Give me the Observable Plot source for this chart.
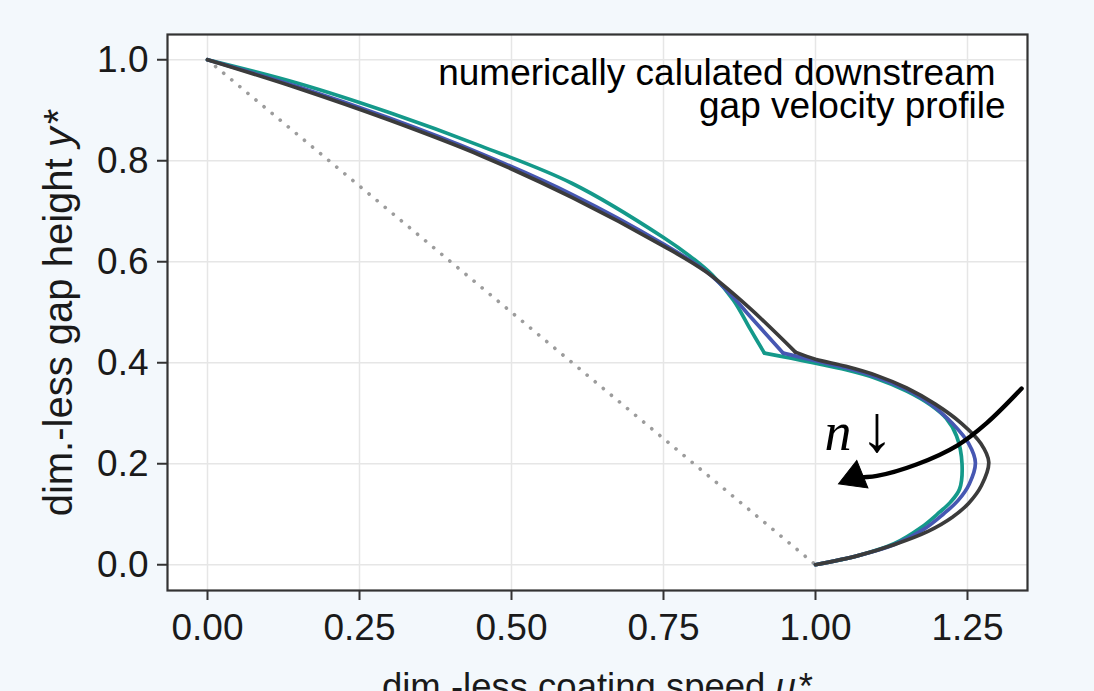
<!DOCTYPE html>
<html><head><meta charset="utf-8">
<script src="https://cdn.jsdelivr.net/npm/d3@7"></script>
<script src="https://cdn.jsdelivr.net/npm/@observablehq/plot@0.6"></script>
<style>
html,body{margin:0;padding:0;background:#f3f8fc;}
#chart{width:1094px;height:691px;overflow:hidden;}
</style></head><body><div id="chart"></div>
<script>
// ---- data ----
const seriesNames = ["n low", "n mid", "n high"];          // teal, blue, dark grey
const seriesColors = ["#14998a", "#4657b2", "#3b3b3b"];

const xTicks = [0, 0.25, 0.5, 0.75, 1.0, 1.25];
const yTicks = [0, 0.2, 0.4, 0.6, 0.8, 1.0];

// upper branch (wall -> kink)
const uHighUpper = [0, 0.15, 0.3, 0.45, 0.6, 0.75, 0.82, 0.89, 0.967];
const yHighUpper = [1, 0.943, 0.880, 0.810, 0.727, 0.631, 0.580, 0.510, 0.421];
const uMidUpper  = [0, 0.15, 0.3, 0.45, 0.6, 0.75, 0.82, 0.86, 0.893, 0.947];
const yMidUpper  = [1, 0.946, 0.884, 0.814, 0.733, 0.635, 0.581, 0.536, 0.491, 0.419];
const uLowUpper  = [0, 0.15, 0.3, 0.45, 0.6, 0.75, 0.8, 0.83, 0.865, 0.893, 0.916];
const yLowUpper  = [1, 0.953, 0.895, 0.829, 0.755, 0.648, 0.605, 0.574, 0.524, 0.466, 0.419];

// lower branch (kink -> moving substrate)
const uHighLower = [0.967, 1.0, 1.05, 1.1, 1.15, 1.197, 1.24, 1.272, 1.285, 1.273, 1.252, 1.225, 1.185, 1.13, 1.07, 1.0];
const yHighLower = [0.421, 0.407, 0.393, 0.375, 0.350, 0.318, 0.280, 0.240, 0.203, 0.157, 0.122, 0.094, 0.066, 0.040, 0.018, 0.0];
const uMidLower  = [0.947, 1.0, 1.05, 1.1, 1.15, 1.19, 1.225, 1.252, 1.263, 1.253, 1.235, 1.21, 1.178, 1.13, 1.07, 1.0];
const yMidLower  = [0.419, 0.404, 0.390, 0.372, 0.347, 0.318, 0.280, 0.240, 0.202, 0.160, 0.128, 0.100, 0.070, 0.040, 0.018, 0.0];
const uLowLower  = [0.916, 0.96, 1.0, 1.05, 1.1, 1.15, 1.19, 1.215, 1.232, 1.241, 1.237, 1.222, 1.204, 1.173, 1.13, 1.07, 1.0];
const yLowLower  = [0.419, 0.409, 0.399, 0.386, 0.369, 0.344, 0.316, 0.290, 0.255, 0.200, 0.150, 0.124, 0.104, 0.073, 0.042, 0.018, 0.0];

// reference (linear Couette) profile
const uLinear = [0, 1];
const yLinear = [1, 0];

// annotation arrow path  (n decreasing)
const arrowU = [1.339, 1.282, 1.233, 1.167, 1.101, 1.064];
const arrowY = [0.349, 0.281, 0.236, 0.199, 0.176, 0.173];
const arrowHead = [{u: 1.064, y: 0.173}];
const nLabel = [{u: 1.037, y: 0.261, t: "n"}];
const downLabel = [{u: 1.101, y: 0.268, t: "\u2193"}];

const titleLines = ["numerically calulated downstream", "gap velocity profile"];
const xTitle = "dim.-less coating speed u*";
const yTitle = "dim.-less gap height y*";

// ---- build tables ----
const rows = (series, part, us, ys) => us.map((u, i) => ({series, part, u, y: ys[i]}));
const lowRows  = [...rows("n low", "a", uLowUpper, yLowUpper), ...rows("n low", "b", uLowLower, yLowLower)];
const midRows  = [...rows("n mid", "a", uMidUpper, yMidUpper), ...rows("n mid", "b", uMidLower, yMidLower)];
const highRows = [...rows("n high", "a", uHighUpper, yHighUpper), ...rows("n high", "b", uHighLower, yHighLower)];
const linRows = uLinear.map((u, i) => ({u, y: yLinear[i]}));
const arrowRows = arrowU.map((u, i) => ({u, y: arrowY[i]}));

const font = "'Liberation Sans', Arial, Helvetica, sans-serif";
const serif = "'Liberation Serif', 'DejaVu Serif', serif";
const lineOpts = {x: "u", y: "y", z: "part", stroke: "series", strokeWidth: 3.7, curve: "catmull-rom", strokeLinejoin: "miter"};

const chart = Plot.plot({
  width: 1094, height: 691,
  marginLeft: 167, marginRight: 67, marginTop: 34, marginBottom: 101,
  x: {domain: [-0.0658, 1.3487]},
  y: {domain: [-0.051, 1.050]},
  color: {domain: seriesNames, range: seriesColors},
  style: {background: "transparent", fontFamily: font, fontSize: "37px", color: "#1a1a1a", overflow: "visible"},
  marks: [
    Plot.frame({fill: "white", stroke: null}),
    Plot.gridX(xTicks, {stroke: "#e6e6e6", strokeOpacity: 1, strokeWidth: 1.5}),
    Plot.gridY(yTicks, {stroke: "#e6e6e6", strokeOpacity: 1, strokeWidth: 1.5}),
    Plot.line(linRows, {x: "u", y: "y", stroke: "#9c9c9c", strokeWidth: 3.6, strokeDasharray: "0.1,10.4", strokeLinecap: "round"}),
    Plot.line(lowRows, lineOpts),
    Plot.line(midRows, lineOpts),
    Plot.line(highRows, lineOpts),
    Plot.line(arrowRows, {x: "u", y: "y", stroke: "black", strokeWidth: 4.4, curve: "catmull-rom"}),
    Plot.dot(arrowHead, {x: "u", y: "y", symbol: "triangle", r: 11, fill: "black", stroke: "black", strokeWidth: 1, rotate: -112}),
    Plot.text(nLabel, {x: "u", y: "y", text: "t", fontFamily: serif, fontStyle: "italic", fontSize: 54, fill: "black"}),
    Plot.text(downLabel, {x: "u", y: "y", text: "t", fontFamily: serif, fontSize: 66, fill: "black"}),
    Plot.text([titleLines[0]], {text: d => d, frameAnchor: "top-right", dx: -32, dy: 24, lineAnchor: "top", textAnchor: "end", fontSize: 37, fill: "black"}),
    Plot.text([titleLines[1]], {text: d => d, frameAnchor: "top-right", dx: -22, dy: 57, lineAnchor: "top", textAnchor: "end", fontSize: 37, fill: "black"}),
    Plot.frame({stroke: "#333333", strokeWidth: 2.2}),
    Plot.axisX(xTicks, {tickFormat: d3.format(".2f"), tickSize: 10, tickPadding: 13, fontSize: 37, stroke: "#333", strokeWidth: 2, fill: "#1a1a1a", label: null}),
    Plot.axisY(yTicks, {tickFormat: d3.format(".1f"), tickSize: 10, tickPadding: 9, fontSize: 37, stroke: "#333", strokeWidth: 2, fill: "#1a1a1a", label: null}),
    Plot.text([yTitle], {text: d => d, frameAnchor: "left", dx: -108, rotate: -90, textAnchor: "middle", lineAnchor: "middle", fontSize: 40, fill: "#1a1a1a"}),
    Plot.text([xTitle], {text: d => d, frameAnchor: "bottom", dy: 108, lineAnchor: "bottom", textAnchor: "middle", fontSize: 36.5, fill: "#1a1a1a"})
  ]
});
document.getElementById("chart").appendChild(chart);

// italicise the math symbols in the axis titles
chart.querySelectorAll("text").forEach(t => {
  const s = t.textContent;
  if (s === xTitle || s === yTitle) {
    const base = s.slice(0, -2), sym = s.slice(-2, -1);
    t.textContent = "";
    const ns = "http://www.w3.org/2000/svg";
    const a = document.createElementNS(ns, "tspan"); a.textContent = base; t.appendChild(a);
    const b = document.createElementNS(ns, "tspan"); b.textContent = sym; b.setAttribute("font-style", "italic"); t.appendChild(b);
    const c = document.createElementNS(ns, "tspan"); c.textContent = "*"; c.setAttribute("dx", "3"); t.appendChild(c);
  }
});
</script></body></html>
